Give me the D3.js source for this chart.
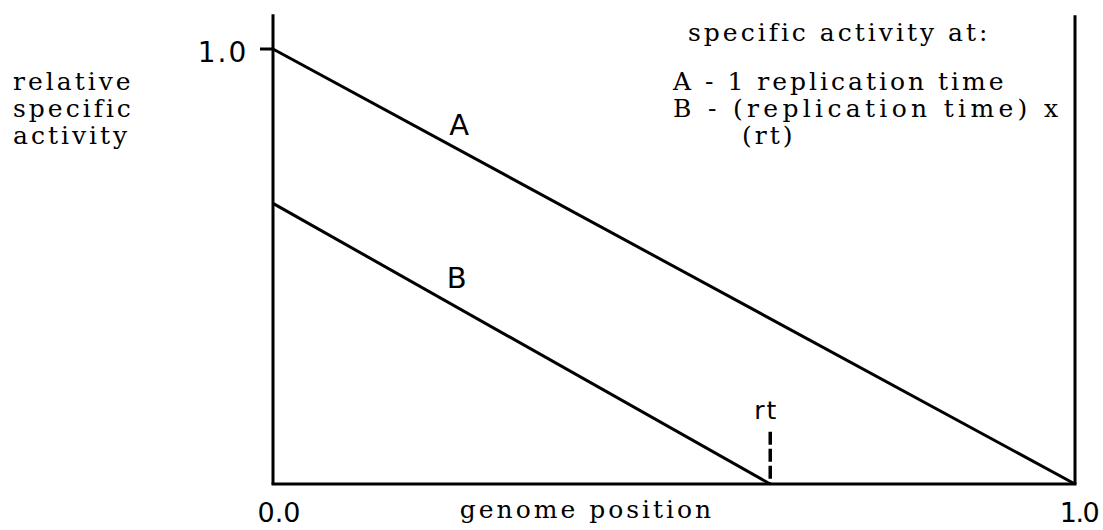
<!DOCTYPE html>
<html><head><meta charset="utf-8">
<script src="https://cdn.jsdelivr.net/npm/d3@7"></script>
<style>html,body{margin:0;padding:0;background:#fff;}svg{display:block;}</style>
</head><body>
<svg id="c" width="1103" height="530"></svg>
<script>
// data
const seriesNames = ["A", "B"];
const lineA = [[0, 1.0], [1.0, 0]];
const lineB = [[0, 0.645], [0.62, 0]];
const rtValue = 0.62;
const rtMarkTop = 0.12;
const xTickLabels = ["0.0", "1.0"];
const xTickValues = [0, 1];
const yTickLabels = ["1.0"];
const yTickValues = [1];
const yAxisTitle = ["relative", "specific", "activity"];
const xAxisTitle = "genome position";
const legendTitle = "specific activity at:";
const legendLines = ["A - 1 replication time", "B - (replication time) x", "(rt)"];

const svg = d3.select("#c");
const x = d3.scaleLinear().domain([0, 1]).range([273, 1075]);
const y = d3.scaleLinear().domain([0, 1]).range([484, 49]);
const yTop = 1.08;

const ink = "#000";
const serif = "'DejaVu Serif', serif";
const sans = "'DejaVu Sans', sans-serif";

// axes frame
svg.append("line").attr("x1", x(0)).attr("x2", x(0)).attr("y1", y(yTop)).attr("y2", y(0))
  .attr("stroke", ink).attr("stroke-width", 3);
svg.append("line").attr("x1", x(1)).attr("x2", x(1)).attr("y1", y(yTop) + 1).attr("y2", y(0))
  .attr("stroke", ink).attr("stroke-width", 3);
svg.append("line").attr("x1", x(0) - 1.5).attr("x2", x(1) + 1.5).attr("y1", y(0)).attr("y2", y(0))
  .attr("stroke", ink).attr("stroke-width", 3);

// y ticks
yTickValues.forEach((v, i) => {
  svg.append("line").attr("x1", x(0) - 13).attr("x2", x(0)).attr("y1", y(v)).attr("y2", y(v))
    .attr("stroke", ink).attr("stroke-width", 3);
  svg.append("text").attr("x", x(0) - 50).attr("y", y(v) + 13)
    .attr("text-anchor", "middle").attr("font-family", sans).attr("font-size", 28)
    .attr("letter-spacing", 2).text(yTickLabels[i]);
});

// x tick labels
xTickValues.forEach((v, i) => {
  svg.append("text").attr("x", x(v) + (i === 0 ? 6 : 4)).attr("y", y(0) + 38)
    .attr("text-anchor", "middle").attr("font-family", sans).attr("font-size", 27)
    .attr("letter-spacing", i === 0 ? 0 : -1.5)
    .text(xTickLabels[i]);
});

// lines
const line = d3.line().x(d => x(d[0])).y(d => y(d[1]));
svg.append("path").datum(lineA).attr("d", line).attr("fill", "none").attr("stroke", ink).attr("stroke-width", 3);
svg.append("path").datum(lineB).attr("d", line).attr("fill", "none").attr("stroke", ink).attr("stroke-width", 3);

// rt dashed marker
svg.append("line").attr("x1", x(rtValue)).attr("x2", x(rtValue)).attr("y1", y(rtMarkTop)).attr("y2", y(0))
  .attr("stroke", ink).attr("stroke-width", 3.5).attr("stroke-dasharray", "13,4");
svg.append("text").attr("x", x(rtValue) - 4).attr("y", y(rtMarkTop) - 13)
  .attr("text-anchor", "middle").attr("font-family", sans).attr("font-size", 25).attr("letter-spacing", 2)
  .text("rt");

// series labels
svg.append("text").attr("x", x(0.232)).attr("y", y(0.802))
  .attr("text-anchor", "middle").attr("font-family", sans).attr("font-size", 29).text(seriesNames[0]);
svg.append("text").attr("x", x(0.229)).attr("y", y(0.45))
  .attr("text-anchor", "middle").attr("font-family", sans).attr("font-size", 29).text(seriesNames[1]);

// y axis title
const rowBase = [90, 117, 144];
const fs = 25, ls = 3;
yAxisTitle.forEach((t, i) => {
  svg.append("text").attr("x", 13).attr("y", rowBase[i])
    .attr("font-family", serif).attr("font-size", fs).attr("letter-spacing", ls).text(t);
});

// x axis title
svg.append("text").attr("x", 587).attr("y", 518)
  .attr("text-anchor", "middle").attr("font-family", serif).attr("font-size", fs)
  .attr("letter-spacing", ls).text(xAxisTitle);

// legend
svg.append("text").attr("x", 688).attr("y", 41)
  .attr("font-family", serif).attr("font-size", fs).attr("letter-spacing", ls).text(legendTitle);
const legX = [673, 673, 742];
legendLines.forEach((t, i) => {
  const tx = svg.append("text").attr("x", legX[i]).attr("y", rowBase[i])
    .attr("font-family", serif).attr("font-size", fs).attr("letter-spacing", ls)
    .style("white-space", "pre").text(t);
  if (i === 1) tx.attr("textLength", 388).attr("lengthAdjust", "spacing");
});
</script>
</body></html>
